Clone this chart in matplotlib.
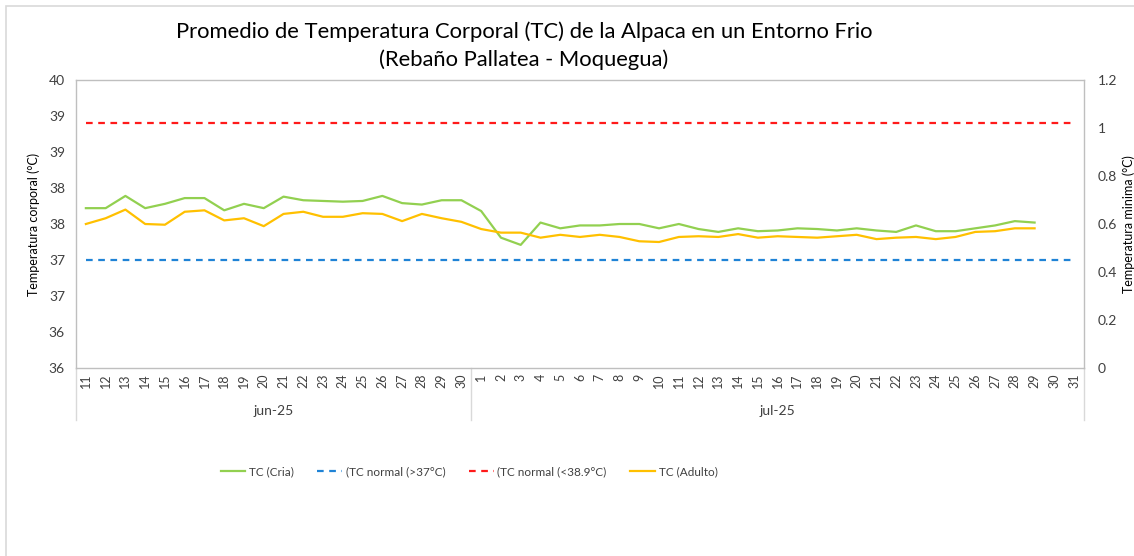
import numpy as np
import matplotlib.pyplot as plt
from matplotlib.ticker import FixedLocator, FuncFormatter
from matplotlib.transforms import blended_transform_factory
from matplotlib.patches import Rectangle

plt.rcParams['font.family'] = ['Lato', 'DejaVu Sans']

# categories : jours de juin (11-30) puis juillet (1-31)
jours_jun = list(range(11, 31))
jours_jul = list(range(1, 32))
jours = jours_jun + jours_jul
mois = ['jun-25', 'jul-25']

# TC (Cria) - pas de valeur le 30 et 31 juillet
tc_cria = [37.72, 37.72, 37.89, 37.72, 37.78, 37.86, 37.86, 37.69, 37.78, 37.72,
           37.88, 37.83, 37.82, 37.81, 37.82, 37.89, 37.79, 37.77, 37.83, 37.83,
           37.68, 37.31, 37.21, 37.52, 37.44, 37.48, 37.48, 37.50, 37.50, 37.44,
           37.50, 37.43, 37.39, 37.44, 37.40, 37.41, 37.44, 37.43, 37.41, 37.44,
           37.41, 37.39, 37.48, 37.40, 37.40, 37.44, 37.48, 37.54, 37.52,
           np.nan, np.nan]

# TC (Adulto)
tc_adulto = [37.50, 37.58, 37.70, 37.50, 37.49, 37.67, 37.69, 37.55, 37.58, 37.47,
             37.64, 37.67, 37.60, 37.60, 37.65, 37.64, 37.54, 37.64, 37.58, 37.53,
             37.43, 37.38, 37.38, 37.31, 37.35, 37.32, 37.35, 37.32, 37.26, 37.25,
             37.32, 37.33, 37.32, 37.36, 37.31, 37.33, 37.32, 37.31, 37.33, 37.35,
             37.29, 37.31, 37.32, 37.29, 37.32, 37.39, 37.40, 37.44, 37.44,
             np.nan, np.nan]

# seuils normaux
tc_normal_min = [37.0] * len(jours)
tc_normal_max = [38.9] * len(jours)

x = np.arange(len(jours))

fig = plt.figure(figsize=(11.34, 5.56), dpi=100)
ax = fig.add_axes([76 / 1134, 1 - 368 / 556, (1084 - 76) / 1134, (368 - 80) / 556])

# cadre du graphique
fig.patches.append(Rectangle((6 / 1134, -0.1), 1.2, 1 - 6 / 556 + 0.1, transform=fig.transFigure,
                             fill=False, edgecolor='#d9d9d9', linewidth=1.2))

ax.plot(x, tc_cria, color='#92d050', linewidth=1.6, label='TC (Cria)')
ax.plot(x, tc_normal_min, color='#1f83d6', linewidth=1.6, linestyle=(0, (3, 2.5)), label='(TC normal (>37°C)')
ax.plot(x, tc_normal_max, color='#ff1a1a', linewidth=1.6, linestyle=(0, (3, 2.5)), label='(TC normal (<38.9°C)')
ax.plot(x, tc_adulto, color='#ffc000', linewidth=1.6, label='TC (Adulto)')

ax.set_xlim(-0.5, len(jours) - 0.5)
ax.set_ylim(35.5, 39.5)
ax.yaxis.set_major_locator(FixedLocator(np.arange(35.5, 39.51, 0.5)))
# arrondi "a la Excel"
ax.yaxis.set_major_formatter(FuncFormatter(lambda v, p: '%d' % np.floor(v + 0.5 + 1e-9)))
ax.set_xticks(x)
ax.set_xticklabels([str(j) for j in jours], rotation=90, fontsize=9, color='#404040')
ax.tick_params(axis='x', length=0, pad=4)
ax.tick_params(axis='y', length=0, labelsize=10, colors='#404040', pad=8)
ax.set_ylabel('Temperatura corporal (°C)', fontsize=9, color='black', labelpad=6)

for s in ax.spines.values():
    s.set_color('#bfbfbf')
    s.set_linewidth(1.0)

# axe secondaire
ax2 = ax.twinx()
ax2.set_ylim(0, 1.2)
ax2.set_yticks([0, 0.2, 0.4, 0.6, 0.8, 1.0, 1.2])
ax2.set_yticklabels(['0', '0.2', '0.4', '0.6', '0.8', '1', '1.2'])
ax2.tick_params(axis='y', length=0, labelsize=10, colors='#404040', pad=10)
ax2.set_ylabel('Temperatura minima (°C)', fontsize=9, color='black', labelpad=4)
for s in ax2.spines.values():
    s.set_visible(False)

# categories a deux niveaux
trans = blended_transform_factory(ax.transData, ax.transAxes)
h_px = 368 - 80
for b in [-0.5, len(jours_jun) - 0.5, len(jours) - 0.5]:
    ax.plot([b, b], [0, -(420 - 368) / h_px], color='#d9d9d9', linewidth=1.0,
            transform=trans, clip_on=False)
centres = [(len(jours_jun) - 1) / 2, len(jours_jun) + (len(jours_jul) - 1) / 2]
for c, m in zip(centres, mois):
    ax.text(c, -(411 - 368) / h_px, m, transform=trans, ha='center', va='center',
            fontsize=10, color='#404040')

fig.text(0.462, 1 - 32 / 556, 'Promedio de Temperatura Corporal (TC) de la Alpaca en un Entorno Frio',
         ha='center', va='center', fontsize=15.8)
fig.text(0.462, 1 - 60 / 556, '(Rebaño Pallatea - Moquegua)', ha='center', va='center', fontsize=15.8)

fig.legend(loc='center', bbox_to_anchor=(469 / 1134, 1 - 472 / 556), ncol=4, frameon=False,
           fontsize=8.5, handlelength=2.1, handletextpad=0.3, columnspacing=2.0,
           labelcolor='#404040')

fig.savefig('out.png', dpi=100)
